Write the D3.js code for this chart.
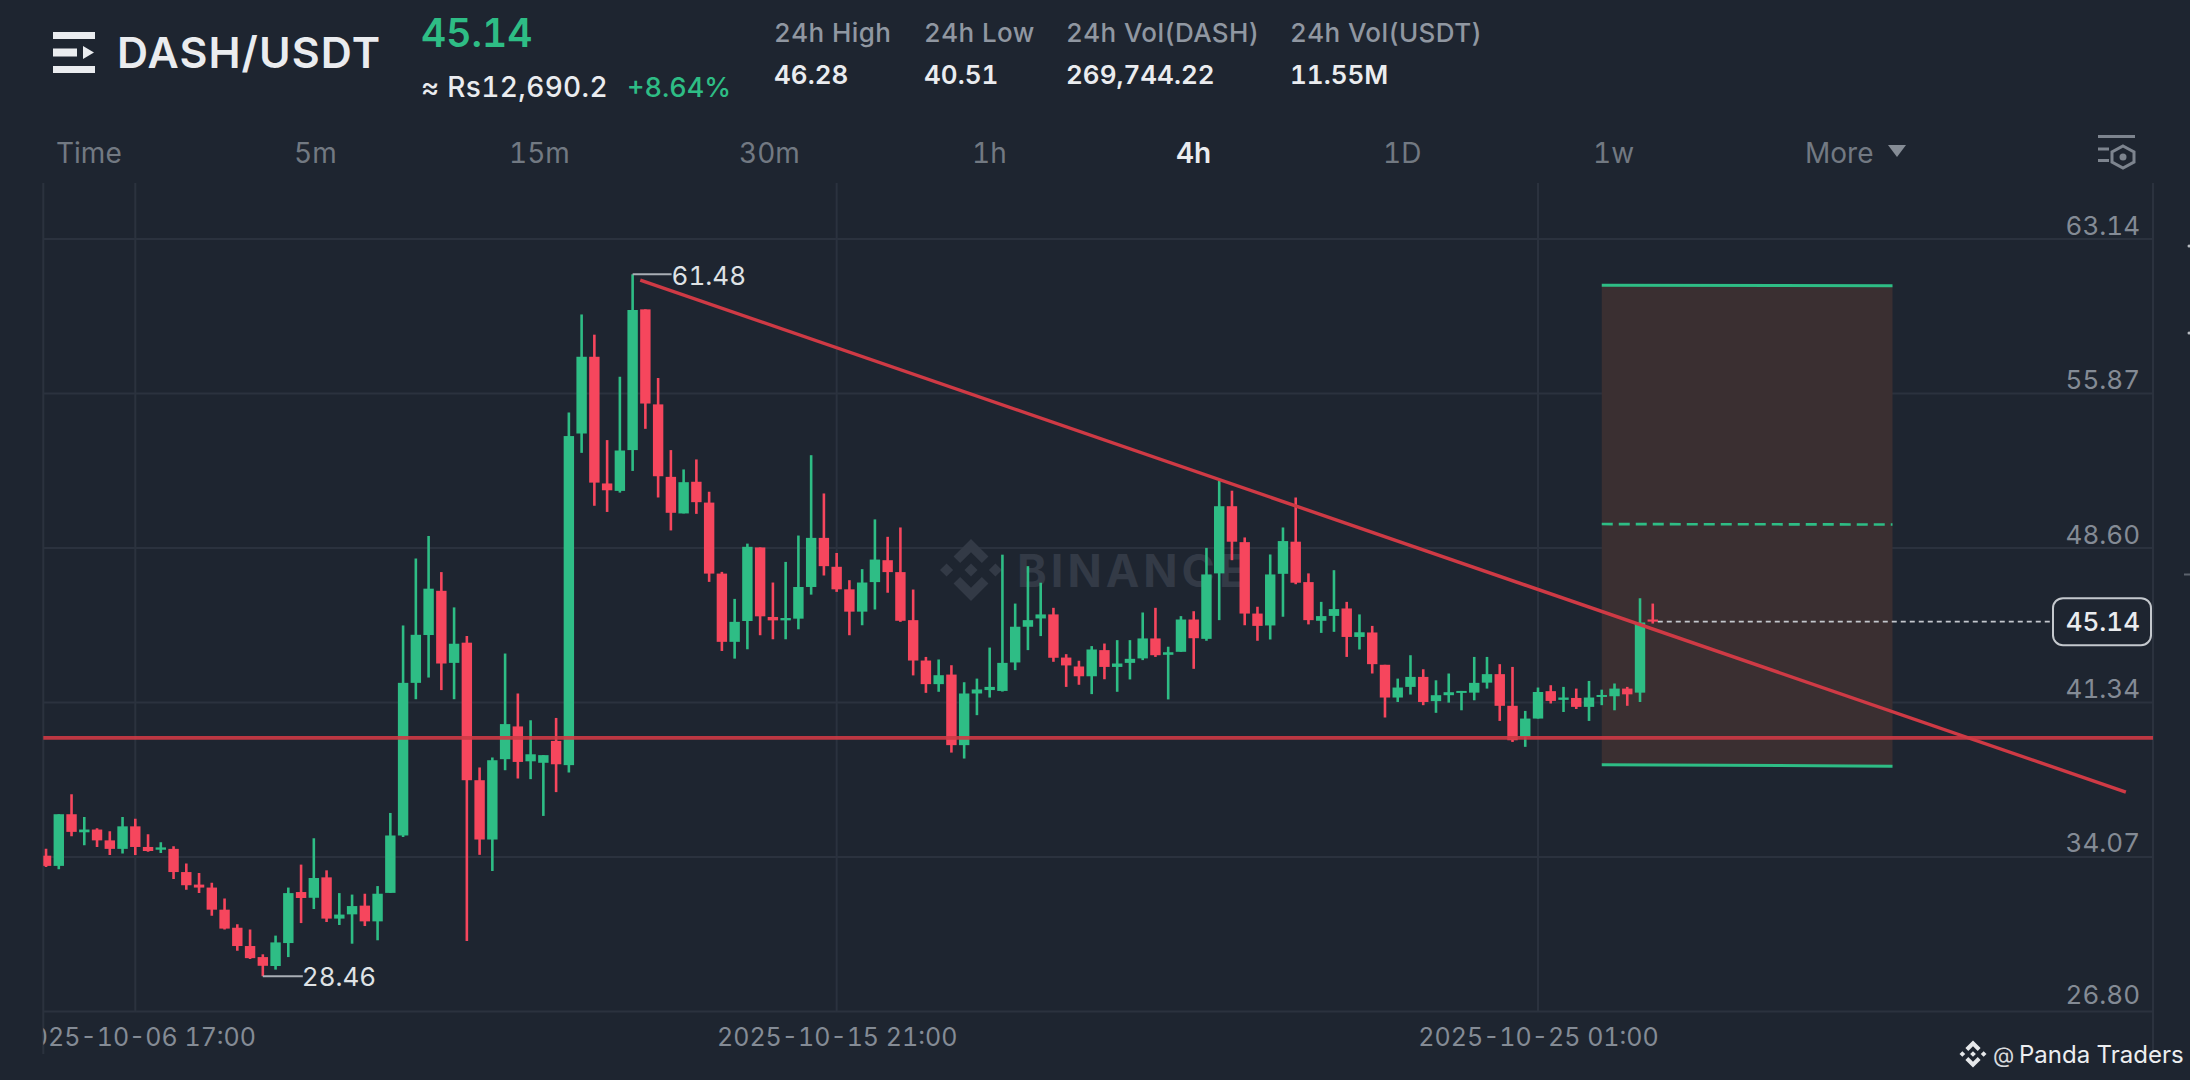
<!DOCTYPE html>
<html>
<head>
<meta charset="utf-8">
<title>DASH/USDT</title>
<script src="https://cdn.jsdelivr.net/npm/d3@7"></script>
<style>
    html, body { margin: 0; padding: 0; background: #1e2530; overflow: hidden; }
    text { font-family: Inter, "Noto Sans", sans-serif; font-variant-numeric: tabular-nums; font-feature-settings: "tnum"; }
</style>
</head>
<body>
<div id="chart"></div>
<script>
/**
 * Chart values. One entry per 4h candle.
 */
var opens = [34.13, 33.65, 36.08, 35.23, 35.36, 34.85, 34.45, 35.51, 34.54, 34.41,
    34.45, 33.36, 32.77, 32.63, 31.59, 30.74, 29.88, 29.36, 28.94, 30.02,
    32.42, 32.15, 33.11, 31.17, 31.37, 31.78, 31.04, 32.38, 35.08, 42.26,
    44.51, 46.59, 43.20, 44.15, 37.68, 34.89, 38.67, 40.21, 38.57, 38.50,
    39.53, 38.39, 53.99, 57.60, 51.64, 51.29, 53.21, 59.83, 55.36, 51.95,
    50.23, 51.72, 50.74, 47.40, 44.19, 45.17, 48.63, 45.36, 45.20, 45.28,
    46.77, 49.08, 47.72, 46.66, 45.61, 47.00, 48.03, 47.47, 45.21, 43.31,
    42.20, 42.65, 39.33, 41.76, 41.92, 41.88, 43.22, 44.90, 45.29, 45.48,
    43.45, 43.03, 42.57, 43.80, 43.01, 43.20, 43.41, 44.35, 43.58, 43.72,
    45.24, 44.33, 47.41, 50.57, 48.88, 45.52, 44.96, 47.39, 48.90, 47.00,
    45.18, 45.41, 45.76, 44.42, 44.63, 43.11, 41.57, 42.07, 42.54, 41.40,
    41.68, 41.79, 41.80, 42.27, 42.67, 41.18, 39.72, 40.58, 41.87, 41.46,
    41.55, 41.13, 41.60, 41.63, 41.99, 41.80, 45.24];
var closes = [33.65, 36.08, 35.25, 35.36, 34.85, 34.45, 35.51, 34.54, 34.35, 34.52,
    33.36, 32.74, 32.63, 31.59, 30.70, 29.88, 29.31, 28.95, 30.05, 32.37,
    32.14, 33.08, 31.17, 31.36, 31.76, 31.04, 32.34, 35.08, 42.26, 44.52,
    46.69, 43.17, 44.10, 37.68, 34.89, 38.62, 40.32, 38.54, 38.90, 38.86,
    38.43, 53.87, 57.60, 51.68, 51.32, 53.19, 59.80, 55.40, 51.98, 50.26,
    51.70, 50.76, 47.40, 44.19, 45.13, 48.66, 45.39, 45.20, 45.31, 46.77,
    49.08, 47.75, 46.66, 45.61, 46.98, 48.06, 47.47, 45.18, 43.31, 42.20,
    42.62, 39.33, 41.76, 41.95, 42.07, 43.20, 44.90, 45.21, 45.48, 43.44,
    43.08, 42.57, 43.83, 43.01, 43.17, 43.39, 44.35, 43.56, 43.70, 45.24,
    44.36, 47.36, 50.57, 48.90, 45.52, 44.94, 47.36, 48.93, 46.97, 45.21,
    45.40, 45.73, 44.42, 44.64, 43.14, 41.57, 42.04, 42.54, 41.36, 41.68,
    41.82, 41.88, 42.26, 42.67, 41.18, 39.56, 40.58, 41.83, 41.41, 41.57,
    41.13, 41.57, 41.69, 41.99, 41.72, 45.10, 45.14];
var highs = [34.46, 36.08, 37.02, 35.95, 35.42, 35.28, 35.95, 35.87, 35.14, 34.76,
    34.57, 33.76, 33.32, 32.86, 32.12, 30.90, 30.66, 29.49, 30.37, 32.63,
    33.71, 34.95, 33.44, 32.37, 32.30, 32.34, 32.70, 36.14, 44.96, 48.11,
    49.17, 47.47, 45.81, 44.46, 38.28, 38.75, 43.64, 41.76, 40.50, 38.86,
    40.61, 54.98, 59.59, 58.64, 53.68, 56.66, 61.48, 59.83, 56.60, 53.21,
    52.30, 52.77, 51.25, 47.48, 46.21, 48.81, 48.63, 46.98, 47.95, 49.19,
    52.97, 51.17, 48.37, 47.09, 47.61, 49.95, 49.13, 49.57, 46.65, 43.48,
    43.36, 43.09, 42.29, 42.46, 43.92, 48.29, 45.99, 47.75, 46.97, 45.79,
    43.61, 43.30, 43.99, 44.11, 44.27, 44.27, 45.57, 45.79, 43.96, 45.40,
    45.63, 48.61, 51.77, 51.30, 49.10, 45.84, 48.30, 49.57, 50.98, 47.41,
    46.07, 47.56, 46.07, 45.48, 44.94, 43.11, 42.46, 43.56, 42.90, 42.38,
    42.70, 41.88, 43.48, 43.48, 43.14, 43.01, 40.94, 42.04, 42.15, 42.07,
    41.99, 42.35, 41.94, 42.23, 42.07, 46.24, 45.99];
var lows = [33.60, 33.49, 35.04, 34.62, 34.54, 34.16, 34.23, 34.16, 34.32, 34.26,
    33.03, 32.53, 32.38, 31.31, 30.66, 29.66, 29.27, 28.46, 28.77, 29.36,
    30.96, 31.62, 31.01, 30.87, 29.99, 30.82, 30.15, 32.38, 35.01, 41.49,
    42.51, 41.92, 41.49, 30.12, 34.17, 33.41, 38.15, 37.76, 37.73, 36.00,
    37.12, 38.04, 53.08, 50.59, 50.30, 51.21, 52.23, 54.21, 50.98, 49.43,
    50.23, 50.21, 47.01, 43.76, 43.40, 43.84, 44.50, 44.31, 44.31, 44.78,
    46.41, 47.31, 46.54, 44.50, 44.97, 45.71, 46.50, 45.13, 42.61, 41.79,
    41.84, 38.98, 38.70, 40.74, 41.57, 41.85, 42.86, 43.80, 44.46, 43.25,
    42.07, 42.17, 41.73, 42.43, 41.84, 42.42, 43.33, 43.48, 41.48, 43.72,
    42.92, 44.24, 45.21, 48.03, 44.97, 44.24, 44.30, 45.37, 46.90, 45.01,
    44.61, 44.66, 43.48, 43.83, 42.70, 40.63, 41.36, 41.71, 41.21, 40.85,
    41.33, 40.97, 41.44, 41.99, 40.47, 39.48, 39.25, 40.58, 41.29, 40.89,
    41.03, 40.47, 41.21, 40.97, 41.18, 41.36, 45.05];

var priceTicks = [63.14, 55.87, 48.60, 41.34, 34.07, 26.80];
var timeTicks = [7, 62, 117];
var timeLabels = ["2025-10-06 17:00", "2025-10-15 21:00", "2025-10-25 01:00"];

var lastPrice = 45.14;
var highLabel = { index: 46, price: 61.48 };
var lowLabel = { index: 17, price: 28.46 };

// drawn on top of the candles by the trader: [index, price] ends
var supportPrice = 39.67;
var trendLine = [[46.6, 61.21], [163.1, 37.12]];
var boxFrom = 122, boxTo = 144.8;
var boxTop = [60.97, 60.94], boxMid = [49.73, 49.71], boxBottom = [38.41, 38.34];

var tabs = ["Time", "5m", "15m", "30m", "1h", "4h", "1D", "1w", "More"];
var tabX = [56, 294, 509, 739, 972, 1176, 1383, 1593, 1805];
var statNames = ["24h High", "24h Low", "24h Vol(DASH)", "24h Vol(USDT)"];
var statValues = ["46.28", "40.51", "269,744.22", "11.55M"];
var statX = [774, 924, 1066, 1290];

var width = 2190, height = 1080;
var green = "#2ebd85", red = "#f6465d", gridColor = "#2b323e", axisColor = "#848b95";
var lineRed = "#cf3a45";

var svg = d3.select("#chart").append("svg")
    .attr("width", width)
    .attr("height", height)
    .style("display", "block");

svg.append("rect").attr("width", width).attr("height", height).attr("fill", "#1e2530");

var plot = { left: 43.3, right: 2153, top: 183, bottom: 1011.5 };

var x = d3.scaleLinear().domain([7, 117]).range([135.3, 1538]);
var y = d3.scaleLinear().domain([26.80, 63.14]).range([1011.5, 239]);

svg.append("clipPath").attr("id", "plot-clip").append("rect")
    .attr("x", plot.left).attr("y", plot.top)
    .attr("width", plot.right - plot.left).attr("height", 880);

/**
 * Header.
 */
var header = svg.append("g");

header.selectAll(".logo-bar")
    .data([[53, 32, 42, 7], [53, 48.5, 24, 8], [53, 66, 42, 7]])
    .enter().append("rect")
    .attr("x", d => d[0]).attr("y", d => d[1])
    .attr("width", d => d[2]).attr("height", d => d[3])
    .attr("fill", "#eaecef");
header.append("path").attr("d", "M83 46 L94 52.5 L83 59 Z").attr("fill", "#eaecef");

header.append("text").attr("x", 117).attr("y", 68).text("DASH/USDT")
    .attr("font-size", 43).attr("font-weight", 600).attr("fill", "#eaecef")
    .attr("letter-spacing", 1.1);
header.append("text").attr("x", 421).attr("y", 47).text("45.14")
    .attr("font-size", 39).attr("font-weight", 600).attr("fill", green);
header.append("text").attr("x", 421).attr("y", 97).text("≈ Rs12,690.2")
    .attr("font-size", 28).attr("font-weight", 500).attr("fill", "#eaecef")
    .attr("letter-spacing", 0.35);
header.append("text").attr("x", 627).attr("y", 97).text("+8.64%")
    .attr("font-size", 27).attr("font-weight", 500).attr("fill", green);

header.selectAll(".stat-name")
    .data(statNames)
    .enter().append("text")
    .attr("x", (d, i) => statX[i]).attr("y", 42)
    .attr("font-size", 26).attr("font-weight", 500).attr("fill", "#9097a1")
    .attr("letter-spacing", 0.4)
    .text(d => d);
header.selectAll(".stat-value")
    .data(statValues)
    .enter().append("text")
    .attr("x", (d, i) => statX[i]).attr("y", 84)
    .attr("font-size", 26).attr("font-weight", 600).attr("fill", "#eaecef")
    .text(d => d);

header.selectAll(".tab")
    .data(tabs)
    .enter().append("text")
    .attr("x", (d, i) => tabX[i]).attr("y", 163)
    .attr("font-size", 28)
    .attr("font-weight", d => d === "4h" ? 600 : 400)
    .attr("fill", d => d === "4h" ? "#eaecef" : "#727982")
    .text(d => d);
header.append("path").attr("d", "M1888 145 L1906 145 L1897 157 Z").attr("fill", "#858c95");

// the little settings icon top right
var icon = header.append("g").attr("stroke", "#7d848e").attr("fill", "none").attr("stroke-width", 3);
icon.append("path").attr("d", "M2098 136.5 H2135");
icon.append("path").attr("d", "M2098 149 H2109 M2098 160.5 H2109");
icon.append("path").attr("d", "M2123 146 L2134 152 V162 L2123 168 L2112 162 V152 Z");
header.append("circle").attr("cx", 2123).attr("cy", 157).attr("r", 3.5).attr("fill", "#7d848e");

/**
 * Grid and axes.
 */
svg.append("g").selectAll("line")
    .data(priceTicks)
    .enter().append("line")
    .attr("x1", plot.left).attr("x2", plot.right)
    .attr("y1", d => y(d)).attr("y2", d => y(d))
    .attr("stroke", gridColor).attr("stroke-width", 2);

svg.append("g").selectAll("line")
    .data(timeTicks)
    .enter().append("line")
    .attr("x1", d => x(d)).attr("x2", d => x(d))
    .attr("y1", plot.top).attr("y2", plot.bottom)
    .attr("stroke", gridColor).attr("stroke-width", 2);

svg.append("g").selectAll("line")
    .data([plot.left, plot.right])
    .enter().append("line")
    .attr("x1", d => d).attr("x2", d => d)
    .attr("y1", plot.top).attr("y2", 1054)
    .attr("stroke", gridColor).attr("stroke-width", 2);

var yAxis = g => g
    .attr("transform", `translate(2140,0)`)
    .call(d3.axisLeft(y).tickValues(priceTicks).tickFormat(d3.format(".2f")).tickSize(0).tickPadding(0))
    .call(g => g.select(".domain").remove())
    .call(g => g.selectAll("text")
        .attr("dy", 0)
        .attr("y", d => d === 26.80 ? -8 : -5)
        .attr("font-family", "Inter")
        .attr("font-size", 26)
        .attr("fill", axisColor));
svg.append("g").call(yAxis);

var xAxis = g => g
    .attr("transform", `translate(0,1046)`)
    .attr("clip-path", "url(#time-clip)")
    .call(d3.axisBottom(x).tickValues(timeTicks).tickFormat((d, i) => timeLabels[i]).tickSize(0).tickPadding(0))
    .call(g => g.select(".domain").remove())
    .call(g => g.selectAll("text")
        .attr("dy", 0)
        .attr("y", 0)
        .attr("font-family", "Inter")
        .attr("font-size", 25)
        .attr("fill", axisColor));
svg.append("clipPath").attr("id", "time-clip").append("rect")
    .attr("x", plot.left).attr("y", -40).attr("width", 2100).attr("height", 60);
svg.append("g").call(xAxis);

/**
 * Binance watermark under the candles.
 */
function binanceMark(g, cx, cy, s, fill) {
    // s is half of the full height of the mark
    var k = s / 16;
    var mark = g.append("g")
        .attr("transform", `translate(${cx},${cy}) scale(${k})`)
        .attr("fill", fill);
    mark.append("path").attr("d", "M0 -3.4 L3.4 0 L0 3.4 L-3.4 0 Z");
    mark.append("path").attr("d", "M-16 0 L-12.6 -3.4 L-9.2 0 L-12.6 3.4 Z");
    mark.append("path").attr("d", "M16 0 L12.6 -3.4 L9.2 0 L12.6 3.4 Z");
    mark.append("path").attr("d", "M0 -16 L9 -7 L5.6 -3.6 L0 -9.2 L-5.6 -3.6 L-9 -7 Z");
    mark.append("path").attr("d", "M0 16 L9 7 L5.6 3.6 L0 9.2 L-5.6 3.6 L-9 7 Z");
}

binanceMark(svg, 971, 570, 31, "#333a46");
svg.append("text").attr("x", 1017).attr("y", 587).text("BINANCE")
    .attr("font-size", 45).attr("font-weight", 700).attr("fill", "#333a46")
    .attr("letter-spacing", 4);

/**
 * Position box, behind the candles.
 */
svg.append("path")
    .attr("d", d3.area().x(d => x(d[0])).y0(d => y(d[1])).y1(d => y(d[2]))([
        [boxFrom, boxBottom[0], boxTop[0]],
        [boxTo, boxBottom[1], boxTop[1]]
    ]))
    .attr("fill", "#3a2f31");

/**
 * Candles.
 */
var candles = svg.append("g").attr("clip-path", "url(#plot-clip)")
    .selectAll("g")
    .data(closes.map((c, i) => i))
    .enter().append("g");

candles.append("line")
    .attr("x1", i => x(i)).attr("x2", i => x(i))
    .attr("y1", i => y(highs[i])).attr("y2", i => y(lows[i]))
    .attr("stroke", i => closes[i] >= opens[i] ? green : red)
    .attr("stroke-width", 2.6);

candles.append("rect")
    .attr("x", i => x(i) - 5.2)
    .attr("width", 10.4)
    .attr("y", i => y(Math.max(opens[i], closes[i])))
    .attr("height", i => Math.max(2, Math.abs(y(opens[i]) - y(closes[i]))))
    .attr("fill", i => closes[i] >= opens[i] ? green : red);

/**
 * Trader lines.
 */
var lineXY = d3.line().x(d => x(d[0])).y(d => y(d[1]));

svg.append("line")
    .attr("x1", plot.left).attr("x2", plot.right)
    .attr("y1", y(supportPrice)).attr("y2", y(supportPrice))
    .attr("stroke", lineRed).attr("stroke-width", 3.6).attr("opacity", 0.9);

svg.append("path")
    .attr("d", lineXY(trendLine))
    .attr("fill", "none")
    .attr("stroke", lineRed).attr("stroke-width", 3.4);

[boxTop, boxBottom].forEach(function (b) {
    svg.append("path")
        .attr("d", lineXY([[boxFrom, b[0]], [boxTo, b[1]]]))
        .attr("fill", "none")
        .attr("stroke", green).attr("stroke-width", 3);
});
svg.append("path")
    .attr("d", lineXY([[boxFrom, boxMid[0]], [boxTo, boxMid[1]]]))
    .attr("fill", "none")
    .attr("stroke", green).attr("stroke-width", 2.6)
    .attr("stroke-dasharray", "11 6");

/**
 * Last price line and tag.
 */
svg.append("line")
    .attr("x1", x(126) + 5).attr("x2", 2052)
    .attr("y1", y(lastPrice)).attr("y2", y(lastPrice))
    .attr("stroke", "#c4c8cd").attr("stroke-width", 1.6)
    .attr("stroke-dasharray", "5 4");
svg.append("rect")
    .attr("x", 2053).attr("y", y(lastPrice) - 23.5)
    .attr("width", 98).attr("height", 47).attr("rx", 10)
    .attr("fill", "#1e2530").attr("stroke", "#c4c8cd").attr("stroke-width", 2);
svg.append("text").attr("x", 2140).attr("y", y(lastPrice) + 9.5).text(lastPrice.toFixed(2))
    .attr("text-anchor", "end")
    .attr("font-size", 26).attr("font-weight", 500).attr("fill", "#eaecef");

/**
 * High and low labels.
 */
var leader = "#a9aeb5", labelColor = "#dfe2e5";
svg.append("path")
    .attr("d", `M${x(highLabel.index)} ${y(highLabel.price)} H${x(highLabel.index) + 39}`)
    .attr("fill", "none").attr("stroke", leader).attr("stroke-width", 2);
svg.append("text").attr("x", x(highLabel.index) + 39).attr("y", y(highLabel.price) + 11)
    .text(highLabel.price.toFixed(2))
    .attr("font-size", 26).attr("fill", labelColor);
svg.append("path")
    .attr("d", `M${x(lowLabel.index)} ${y(lowLabel.price)} H${x(lowLabel.index) + 40}`)
    .attr("fill", "none").attr("stroke", leader).attr("stroke-width", 2);
svg.append("text").attr("x", x(lowLabel.index) + 39).attr("y", y(lowLabel.price) + 10)
    .text(lowLabel.price.toFixed(2))
    .attr("font-size", 26).attr("fill", labelColor);

/**
 * Footer credit, plus the bits of the next screen at the right edge.
 */
binanceMark(svg, 1973, 1054, 13.5, "#e6e8ea");
svg.append("text").attr("x", 1993).attr("y", 1063).text("@")
    .attr("font-family", "Noto Sans").attr("font-size", 22).attr("fill", "#d8dadd");
svg.append("text").attr("x", 2019).attr("y", 1063).text("Panda Traders")
    .attr("font-family", "Noto Sans").attr("font-size", 24).attr("fill", "#eceef0");

svg.append("g").selectAll("circle")
    .data([246, 333])
    .enter().append("circle")
    .attr("cx", 2189).attr("cy", d => d).attr("r", 1.5).attr("fill", "#b6bac0");
svg.append("rect").attr("x", 2184).attr("y", 573.5).attr("width", 6).attr("height", 2).attr("fill", "#5b626c");
</script>
</body>
</html>
